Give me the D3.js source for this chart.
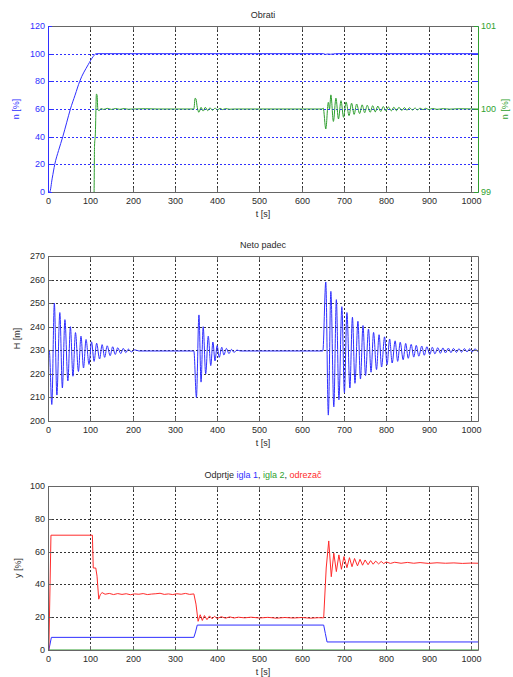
<!DOCTYPE html>
<html>
<head>
<meta charset="utf-8">
<script src="https://cdn.jsdelivr.net/npm/d3@7"></script>
<style>
body { margin: 0; background: #fff; }
</style>
</head>
<body>
<script>
"use strict";

// ---- data ----
let xTicks = [0, 100, 200, 300, 400, 500, 600, 700, 800, 900, 1000];

// Obrati (left axis, n [%])
let obratiT = [0, 4, 10, 16, 25, 35, 44, 53, 64, 75, 95, 107, 114, 652, 656, 662, 668, 675, 680, 1017];
let obratiN = [0, 0, 10, 20, 30, 40, 50, 60, 70, 80, 92, 98, 100, 100, 99.5, 99.8, 99.6, 99.8, 100, 100];
let obratiTicks = [0, 20, 40, 60, 80, 100, 120];

// Obrati zoomed (right axis, n [%] 99..101)
let zoomT = [100, 109, 110, 112, 114.5, 116, 118, 121, 125, 132,
  140, 150, 160, 170, 180, 190, 200, 230, 260, 300,
  345, 348, 350, 353, 357, 362, 367, 372, 378, 383,
  389, 395, 401, 407, 413, 420, 430, 440, 500, 600,
  648, 651, 657, 663, 666, 669, 675, 681, 687, 693,
  699, 705, 712, 718, 724, 730, 737, 743, 749, 755,
  762, 768, 774, 780, 787, 793, 799, 805, 812, 818,
  824, 830, 837, 843, 849, 855, 862, 868, 874, 880,
  887, 893, 900, 910, 920, 935, 950, 970, 1017];
let zoomN = [98, 99, 99.55, 99.7, 100.18, 100.17, 99.99, 99.98, 100.005, 99.995,
  100.008, 99.995, 100.006, 99.996, 100.005, 99.997, 100, 100.003, 100, 100,
  100, 100.13, 100.12, 100.02, 99.96, 100.02, 99.975, 100.02, 99.98, 100.015,
  99.985, 100.01, 99.99, 100.008, 99.993, 100.005, 99.997, 100, 100, 100,
  100, 100.01, 99.76, 100.08, 100.0, 100.17, 99.85, 100.13, 99.88, 100.1,
  99.9, 100.085, 99.92, 100.07, 99.935, 100.06, 99.945, 100.05, 99.955, 100.045,
  99.96, 100.04, 99.965, 100.035, 99.97, 100.03, 99.975, 100.025, 99.978, 100.022,
  99.98, 100.02, 99.983, 100.017, 99.985, 100.015, 99.988, 100.012, 99.99, 100.01,
  99.992, 100.008, 99.994, 100.006, 99.996, 100.004, 99.998, 100.003, 100];
let zoomTicks = [99, 100, 101];

// Neto padec (H [m]), extremes of the oscillation
let netoT = [0, 3, 9, 15, 21, 28, 34, 40, 47, 53,
  59, 65, 72, 78, 84, 90, 97, 103, 109, 115,
  122, 128, 134, 140, 147, 153, 159, 165, 172, 178,
  184, 190, 197, 205, 215,
  345, 351, 357, 362, 367, 373, 379, 385, 390, 395,
  400, 405, 411, 416, 422, 428, 434, 440, 447, 455, 650,
  657, 663, 669, 676, 682, 688, 695, 701, 707, 714,
  720, 726, 733, 739, 745, 751, 758, 764, 770, 777,
  783, 789, 796, 802, 808, 814, 821, 827, 833, 840,
  846, 852, 859, 865, 871, 877, 884, 890, 896, 903,
  909, 915, 922, 928, 934, 940, 947, 953, 959, 966,
  972, 978, 985, 991, 997, 1003, 1010, 1016];
let netoH = [229, 230, 207, 250, 211, 246, 214, 243, 217, 240,
  219, 237.5, 221, 236, 222.5, 234.6, 224, 233.6, 225.3, 233,
  226.3, 232.4, 227, 231.9, 227.7, 231.5, 228.2, 231.1, 228.6, 230.8,
  229, 230.5, 229.3, 230.2, 229.7,
  229.7, 210, 245, 216.5, 240, 220, 236, 223.5, 233.5, 225.5,
  232, 227, 231.3, 228, 230.8, 228.6, 230.4, 229.1, 230.1, 229.7, 229.7,
  259, 202.5, 255, 206, 251.5, 209, 248.5, 212, 246, 214,
  244, 216, 242.3, 217.8, 240.5, 219.3, 239, 220.7, 237.6, 221.8,
  236.6, 222.9, 235.7, 223.9, 234.8, 224.6, 234, 225.3, 233.4, 226,
  232.9, 226.6, 232.5, 227.1, 232.1, 227.5, 231.8, 227.9, 231.5, 228.2,
  231.3, 228.5, 231.1, 228.7, 231, 228.9, 230.9, 229, 230.8, 229.1,
  230.7, 229.2, 230.7, 229.3, 230.6, 229.3, 230.6, 229.4];
let netoTicks = [200, 210, 220, 230, 240, 250, 260, 270];

// Odprtje (y [%])
let igla1T = [0, 2, 8, 345, 349, 353, 652, 656, 660, 1017];
let igla1 = [0, 0, 7.7, 7.7, 11, 15.2, 15.2, 10, 4.9, 4.9];
let igla2T = [0, 1017];
let igla2 = [0, 0];
let odrezacT = [0, 2, 7, 105, 107, 113, 116, 120, 124, 128,
  135, 145, 155, 165, 175, 185, 195, 205, 215, 225,
  235, 245, 255, 265, 275, 285, 295, 305, 315, 325,
  335, 345, 350, 355, 360, 365, 370, 376, 382, 388,
  394, 400, 410, 420, 430, 440, 450, 465, 480, 500,
  520, 540, 560, 580, 600, 620, 640, 652, 658, 664,
  670, 676, 682, 688, 694, 700, 707, 713, 719, 725,
  732, 738, 744, 750, 757, 763, 769, 775, 782, 788,
  794, 800, 810, 820, 835, 850, 865, 880, 900, 920,
  940, 960, 980, 1000, 1017];
let odrezac = [0, 0, 70, 70, 50, 50, 45, 31, 34, 35,
  34, 34.5, 33.8, 34.4, 33.9, 34.3, 33.7, 34.2, 34.0, 34.4,
  33.8, 34.1, 34.3, 34.6, 33.9, 34.2, 33.8, 34.3, 34.0, 34.5,
  33.9, 34.2, 28, 17.5, 21.5, 18, 21, 18.5, 20.8, 19,
  20.5, 19.2, 20.3, 19.4, 20.2, 19.5, 20, 19.6, 20, 19.5,
  19.9, 19.4, 19.8, 19.5, 19.8, 19.4, 19.7, 19.6, 50, 66.5,
  44.7, 59, 47.8, 58, 49.2, 57, 50.2, 56.3, 50.8, 55.8,
  51.3, 55.3, 51.7, 54.9, 52, 54.5, 52.3, 54.2, 52.5, 54,
  52.7, 53.7, 52.8, 53.5, 52.9, 53.4, 52.9, 53.3, 52.8, 53.2,
  52.9, 53.1, 52.8, 53, 52.9];
let odprtjeTicks = [0, 20, 40, 60, 80, 100];

// ---- drawing ----
let width = 513;
let height = 677;
let left = 48, right = 478;
let font = "'Liberation Sans', Arial, sans-serif";
let blue = "#2f2fff", green = "#2f9f2f", red = "#ff2b2b";
let frame = "#666", ink = "#2a2a2a";
let fmt = d3.format("d");

let svg = d3.select("body").append("svg").attr("width", width).attr("height", height)
  .style("font-family", font);

let x = d3.scaleLinear().domain([0, 1017]).range([left, right]);
let xr = x.copy().interpolate(d3.interpolateRound);

function rounded(s) {
  return s.copy().interpolate(d3.interpolateRound);
}

function styleAxis(g, lineColor, textColor) {
  g.attr("font-family", font).attr("font-size", 9);
  g.select(".domain").attr("stroke", lineColor);
  g.selectAll(".tick line").attr("stroke", lineColor);
  g.selectAll(".tick text").attr("fill", textColor);
}

function clip(id, top, bottom) {
  svg.append("clipPath").attr("id", id).append("rect")
    .attr("x", left).attr("y", top).attr("width", right - left).attr("height", bottom - top);
}

function grid(y, top, bottom, yVals, hColor) {
  let yr = rounded(y);
  let g = svg.append("g").attr("stroke-width", 1).attr("stroke-dasharray", "2,2");
  g.selectAll(".v").data(xTicks.filter(d => d > 0)).enter().append("line")
    .attr("x1", d => xr(d) + 0.5).attr("x2", d => xr(d) + 0.5)
    .attr("y1", top).attr("y2", bottom)
    .attr("stroke", "#333");
  g.selectAll(".h").data(yVals.slice(1, -1)).enter().append("line")
    .attr("x1", left).attr("x2", right)
    .attr("y1", d => yr(d) + 0.5).attr("y2", d => yr(d) + 0.5)
    .attr("stroke", hColor);
}

function xAxes(top, bottom) {
  svg.append("g").attr("transform", "translate(0," + bottom + ")")
    .call(d3.axisBottom(xr).tickValues(xTicks).tickFormat(fmt).tickSizeInner(-4).tickSizeOuter(0).tickPadding(6))
    .call(styleAxis, frame, ink);
  svg.append("g").attr("transform", "translate(0," + top + ")")
    .call(d3.axisTop(xr).tickValues(xTicks).tickSizeInner(-4).tickSizeOuter(0).tickFormat(""))
    .call(styleAxis, frame, ink);
  svg.append("text").attr("x", 263).attr("y", bottom + 25).attr("text-anchor", "middle")
    .attr("font-size", 9).attr("fill", ink).text("t [s]");
}

function yAxes(y, ticks, lineColor, textColor) {
  let yr = rounded(y);
  svg.append("g").attr("transform", "translate(" + left + ",0)")
    .call(d3.axisLeft(yr).tickValues(ticks).tickFormat(fmt).tickSizeInner(-4).tickSizeOuter(0).tickPadding(3))
    .call(styleAxis, lineColor, textColor);
  svg.append("g").attr("transform", "translate(" + right + ",0)")
    .call(d3.axisRight(yr).tickValues(ticks).tickSizeInner(-4).tickSizeOuter(0).tickFormat(""))
    .call(styleAxis, lineColor, textColor);
}

function series(id, y, ts, vs, color, curve) {
  let line = d3.line().x(d => x(d[0])).y(d => y(d[1])).curve(curve);
  svg.append("path")
    .attr("clip-path", "url(#" + id + ")")
    .attr("d", line(d3.zip(ts, vs)))
    .attr("fill", "none").attr("stroke", color).attr("stroke-width", 1);
}

function title(yPos, str) {
  svg.append("text").attr("x", 263).attr("y", yPos).attr("text-anchor", "middle")
    .attr("font-size", 9).attr("fill", ink).text(str);
}

function yLabel(xPos, yPos, str, color) {
  svg.append("text").attr("transform", "translate(" + xPos + "," + yPos + ") rotate(-90)")
    .attr("text-anchor", "middle").attr("font-size", 9).attr("fill", color).text(str);
}

// panel 1: Obrati
let t1 = 26, b1 = 192;
let y1 = d3.scaleLinear().domain([0, 120]).range([b1, t1]);
let y1r = d3.scaleLinear().domain([99, 101]).range([b1, t1]);
clip("c1", t1, b1 + 1);
grid(y1, t1, b1, obratiTicks, blue);
series("c1", y1, obratiT, obratiN, blue, d3.curveMonotoneX);
series("c1", y1r, zoomT, zoomN, green, d3.curveMonotoneX);
xAxes(t1, b1);
yAxes(y1, obratiTicks, blue, blue);
svg.append("g").attr("transform", "translate(" + right + ",0)")
  .call(d3.axisRight(rounded(y1r)).tickValues(zoomTicks).tickFormat(fmt).tickSizeInner(-4).tickSizeOuter(0).tickPadding(3))
  .call(styleAxis, green, green);
title(t1 - 8, "Obrati");
yLabel(19, (t1 + b1) / 2, "n [%]", blue);
yLabel(508, (t1 + b1) / 2, "n [%]", green);

// panel 2: Neto padec
let t2 = 256, b2 = 421;
let y2 = d3.scaleLinear().domain([200, 270]).range([b2, t2]);
clip("c2", t2, b2);
grid(y2, t2, b2, netoTicks, "#333");
series("c2", y2, netoT, netoH, blue, d3.curveMonotoneX);
xAxes(t2, b2);
yAxes(y2, netoTicks, frame, ink);
title(t2 - 8, "Neto padec");
yLabel(20, (t2 + b2) / 2, "H [m]", ink);

// panel 3: Odprtje
let t3 = 486, b3 = 650;
let y3 = d3.scaleLinear().domain([0, 100]).range([b3, t3]);
clip("c3", t3 - 1, b3 + 1);
grid(y3, t3, b3, odprtjeTicks, "#333");
series("c3", y3, igla2T, igla2, green, d3.curveLinear);
series("c3", y3, igla1T, igla1, blue, d3.curveLinear);
series("c3", y3, odrezacT, odrezac, red, d3.curveLinear);
xAxes(t3, b3);
yAxes(y3, odprtjeTicks, frame, ink);
let tt = svg.append("text").attr("x", 263).attr("y", t3 - 8).attr("text-anchor", "middle").attr("font-size", 9);
tt.append("tspan").attr("fill", ink).text("Odprtje ");
tt.append("tspan").attr("fill", blue).text("igla 1");
tt.append("tspan").attr("fill", ink).text(", ");
tt.append("tspan").attr("fill", green).text("igla 2");
tt.append("tspan").attr("fill", ink).text(", ");
tt.append("tspan").attr("fill", red).text("odrezač");
yLabel(21, (t3 + b3) / 2, "y [%]", ink);
</script>
</body>
</html>
